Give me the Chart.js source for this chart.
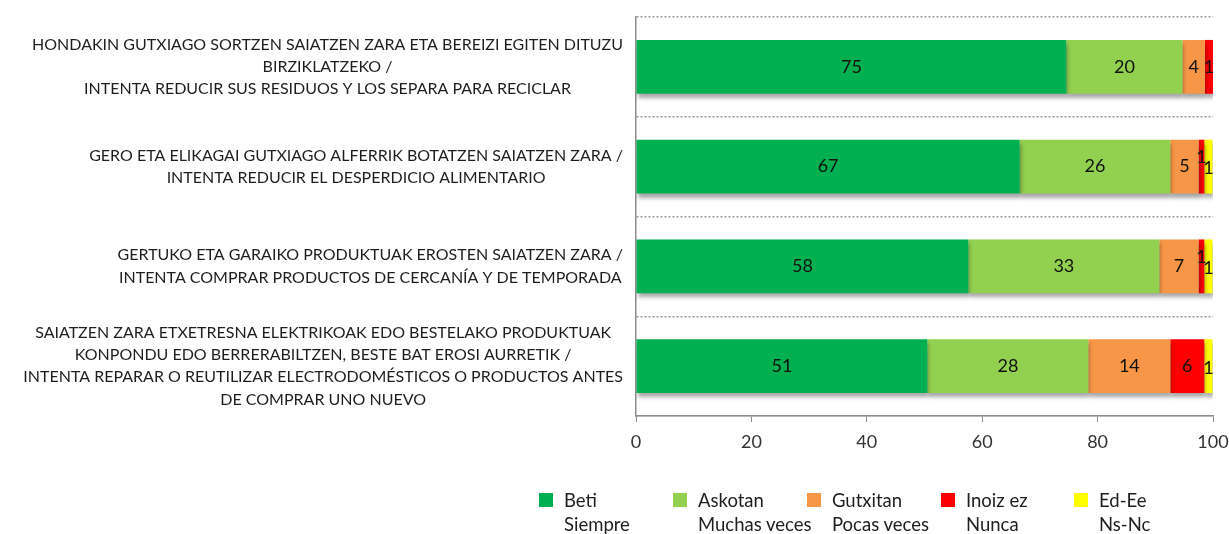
<!DOCTYPE html>
<html>
<head>
<meta charset="utf-8">
<script src="https://cdn.jsdelivr.net/npm/chart.js@4/dist/chart.umd.min.js"></script>
<style>
  html, body { margin: 0; padding: 0; background: #fff; }
  #wrap { position: relative; width: 1229px; height: 534px; overflow: hidden; }
  #c { position: absolute; left: 0; top: 0; }
  #legend { position: absolute; left: 0; top: 0; width: 1229px; height: 534px; pointer-events: none;
            font-family: Lato, 'Liberation Sans Narrow', sans-serif; font-size: 18.5px; color: #1e1e1e; }
  .item { position: absolute; top: 488px; }
  .box { position: absolute; left: 0; top: 5px; width: 14px; height: 14px; }
  .txt { position: absolute; left: 25px; top: 0; white-space: nowrap; line-height: 24px; }
</style>
</head>
<body>
<div id="wrap">
  <canvas id="c" width="1229" height="534"></canvas>
  <div id="legend"></div>
</div>
<script>
const categories = [
  ["HONDAKIN GUTXIAGO SORTZEN SAIATZEN ZARA ETA BEREIZI EGITEN DITUZU", "BIRZIKLATZEKO /", "INTENTA REDUCIR SUS RESIDUOS Y LOS SEPARA PARA RECICLAR"],
  ["GERO ETA ELIKAGAI GUTXIAGO ALFERRIK BOTATZEN SAIATZEN ZARA /", "INTENTA REDUCIR EL DESPERDICIO ALIMENTARIO"],
  ["GERTUKO ETA GARAIKO PRODUKTUAK EROSTEN SAIATZEN ZARA /", "INTENTA COMPRAR PRODUCTOS DE CERCANÍA Y DE TEMPORADA"],
  ["SAIATZEN ZARA ETXETRESNA ELEKTRIKOAK EDO BESTELAKO PRODUKTUAK", "KONPONDU EDO BERRERABILTZEN, BESTE BAT EROSI AURRETIK /", "INTENTA REPARAR O REUTILIZAR ELECTRODOMÉSTICOS O PRODUCTOS ANTES", "DE COMPRAR UNO NUEVO"]
];
const seriesNames = [
  ["Beti", "Siempre"],
  ["Askotan", "Muchas veces"],
  ["Gutxitan", "Pocas veces"],
  ["Inoiz ez", "Nunca"],
  ["Ed-Ee", "Ns-Nc"]
];
const beti     = [74.6, 66.5, 57.6, 50.5];
const askotan  = [20.1, 26.1, 33.1, 27.9];
const gutxitan = [3.9, 4.9, 6.8, 14.2];
const inoizEz  = [1.4, 1.0, 1.0, 5.9];
const edEe     = [0, 1.4, 1.4, 1.4];
const xTicks   = [0, 20, 40, 60, 80, 100];
const colors   = ["#00B050", "#92D050", "#F79646", "#FF0000", "#FFFF00"];

const seriesValues = [beti, askotan, gutxitan, inoizEz, edEe];
const FONT = "Lato, 'Liberation Sans Narrow', sans-serif";
const Y_PAD = 13;

const shadowPlugin = {
  id: 'barShadow',
  beforeDatasetsDraw(chart) {
    const ctx = chart.ctx;
    ctx.save();
    ctx.shadowColor = 'rgba(0,0,0,0.35)';
    ctx.shadowBlur = 4;
    ctx.shadowOffsetX = 1;
    ctx.shadowOffsetY = 4;
  },
  afterDatasetsDraw(chart) {
    const ctx = chart.ctx;
    ctx.restore();
    ctx.save();
    ctx.font = "18px " + FONT;
    ctx.fillStyle = '#111';
    ctx.textAlign = 'center';
    ctx.textBaseline = 'middle';
    chart.data.datasets.forEach((ds, di) => {
      const meta = chart.getDatasetMeta(di);
      meta.data.forEach((el, i) => {
        const v = ds.data[i];
        if (!v) return;
        const p = el.getProps(['x', 'y', 'base'], true);
        let dy = 0;
        if (di === 3 && v < 2 && seriesValues[4][i] > 0) dy = -9;
        if (di === 4) dy = 2;
        ctx.fillText(String(Math.round(v)), (p.x + p.base) / 2, p.y + dy);
      });
    });
    ctx.restore();
  }
};

// Right-align each category label block against the axis, lines centred within the block
const labelBlockPlugin = {
  id: 'labelBlock',
  beforeDraw(chart) {
    const scale = chart.scales.y;
    const items = scale.getLabelItems(chart.chartArea);
    const ctx = chart.ctx;
    ctx.save();
    items.forEach(item => {
      ctx.font = item.font.string;
      const lines = Array.isArray(item.label) ? item.label : [item.label];
      const w = Math.max(...lines.map(l => ctx.measureText(l).width));
      const t = item.options.translation;
      item.options.translation = [scale.right - Y_PAD - w / 2, t[1]];
    });
    ctx.restore();
  }
};

new Chart(document.getElementById('c'), {
  type: 'bar',
  data: {
    labels: categories,
    datasets: seriesValues.map((vals, k) => ({
      label: seriesNames[k].join(' '),
      data: vals,
      backgroundColor: colors[k],
      borderWidth: 0,
      barPercentage: 0.54,
      categoryPercentage: 1.0
    }))
  },
  options: {
    indexAxis: 'y',
    responsive: false,
    animation: false,
    events: [],
    layout: { padding: { top: 17, right: 16, bottom: 78, left: 0 } },
    plugins: { legend: { display: false }, tooltip: { enabled: false } },
    scales: {
      x: {
        stacked: true,
        min: 0, max: 100,
        afterBuildTicks: s => { s.ticks = xTicks.map(v => ({ value: v })); },
        afterFit: s => { s.height = 40; s.paddingLeft = 0; s.paddingRight = 0; },
        grid: { drawOnChartArea: false, drawTicks: true, tickLength: 6, color: '#8c8c8c' },
        border: { display: true, color: '#8c8c8c', width: 1.5 },
        ticks: { font: { size: 18, family: FONT }, color: '#333', padding: 9, maxRotation: 0 }
      },
      y: {
        stacked: true,
        afterFit: s => { s.width = 636; s.paddingTop = 0; s.paddingBottom = 0; },
        grid: { offset: true, drawTicks: false, color: '#999', lineWidth: 1.5 },
        border: { display: true, color: '#8c8c8c', width: 1.5, dash: [2, 2] },
        ticks: { autoSkip: false, font: { size: 16, family: FONT, lineHeight: 1.4 }, color: '#1e1e1e', padding: Y_PAD, crossAlign: 'center' }
      }
    }
  },
  plugins: [shadowPlugin, labelBlockPlugin]
});

// HTML legend built from the series
const legend = document.getElementById('legend');
const legendX = [539, 673, 807, 941, 1074];
seriesNames.forEach((nm, k) => {
  const it = document.createElement('div');
  it.className = 'item';
  it.style.left = legendX[k] + 'px';
  it.innerHTML = '<div class="box" style="background:' + colors[k] + '"></div><div class="txt">' + nm[0] + '<br>' + nm[1] + '</div>';
  legend.appendChild(it);
});
</script>
</body>
</html>
